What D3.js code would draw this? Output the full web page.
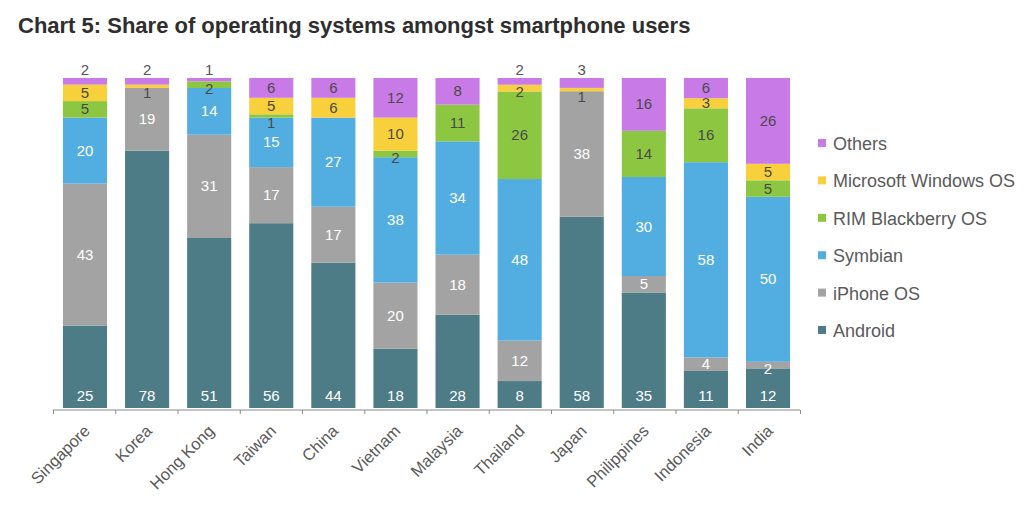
<!DOCTYPE html>
<html>
<head>
<meta charset="utf-8">
<script src="https://cdn.jsdelivr.net/npm/d3@7"></script>
<style>
  body { margin: 0; background: #fff; font-family: "Liberation Sans", Arial, sans-serif; }
  .title { font-weight: bold; font-size: 22px; fill: #2e2e2e; }
  .axis path, .axis line { stroke: #8a8a8a; }
  .axis text { font-size: 16.5px; fill: #5a5a5a; }
  .legend text { font-size: 18px; fill: #5a5a5a; }
  .val { font-size: 15px; text-anchor: middle; }
</style>
</head>
<body>
<svg id="chart" width="1030" height="506"></svg>
<script>
// Data
const countries = ["Singapore", "Korea", "Hong Kong", "Taiwan", "China", "Vietnam",
  "Malaysia", "Thailand", "Japan", "Philippines", "Indonesia", "India"];
const series = ["Android", "iPhone OS", "Symbian", "RIM Blackberry OS", "Microsoft Windows OS", "Others"];
const android   = [25, 78, 51, 56, 44, 18, 28, 8, 58, 35, 11, 12];
const iphone    = [43, 19, 31, 17, 17, 20, 18, 12, 38, 5, 4, 2];
const symbian   = [20, 0, 14, 15, 27, 38, 34, 48, 0, 30, 58, 50];
const rim       = [5, 0, 2, 1, 0, 2, 11, 26, 0, 14, 16, 5];
const windowsOS = [5, 1, 0, 5, 6, 10, 0, 2, 1, 0, 3, 5];
const others    = [2, 2, 1, 6, 6, 12, 8, 2, 3, 16, 6, 26];
const colors = ["#4d7b86", "#a3a3a3", "#52aee0", "#8dc640", "#f7d03c", "#c87ae6"];

const values = [android, iphone, symbian, rim, windowsOS, others];
const rows = countries.map((c, i) => {
  const r = { country: c };
  series.forEach((s, j) => r[s] = values[j][i]);
  return r;
});

const svg = d3.select("#chart");
const margin = { left: 53, top: 78 };
const innerW = 800 - margin.left;
const innerH = 408 - margin.top;

svg.append("text").attr("class", "title")
  .attr("x", 18).attr("y", 33)
  .text("Chart 5: Share of operating systems amongst smartphone users");

const g = svg.append("g").attr("transform", `translate(${margin.left},${margin.top})`);

const x = d3.scaleBand().domain(countries).range([0, innerW]).paddingInner(0.29).paddingOuter(0.16);
const y = d3.scaleLinear().domain([0, 1]).range([innerH, 0]);
const color = d3.scaleOrdinal().domain(series).range(colors);

const stacked = d3.stack().keys(series).offset(d3.stackOffsetExpand)(rows);

const layers = g.selectAll("g.layer").data(stacked).enter().append("g")
  .attr("class", "layer")
  .attr("fill", d => color(d.key));

layers.selectAll("rect").data(d => d).enter().append("rect")
  .attr("x", d => x(d.data.country))
  .attr("y", d => y(d[1]))
  .attr("width", x.bandwidth())
  .attr("height", d => y(d[0]) - y(d[1]));

// Value labels
const lightText = new Set(["Android", "iPhone OS", "Symbian"]);
layers.each(function(layer) {
  const key = layer.key;
  d3.select(this).selectAll("text").data(layer.filter(d => d.data[key] > 0)).enter().append("text")
    .attr("class", "val")
    .attr("x", d => x(d.data.country) + x.bandwidth() / 2)
    .attr("y", d => {
      const v = d.data[key];
      if (key === "Android") return y(0) - 7;
      if (key === "Others" && v <= 3) return y(1) - 3;
      // tiny segments: label sits a little below the band
      const mid = (y(d[0]) + y(d[1])) / 2;
      if (v === 1) return mid + 12;
      if (v === 2) return mid + 9;
      return mid + 5;
    })
    .attr("fill", d => (key === "Others" && d.data[key] <= 3) ? "#555" : (lightText.has(key) ? "#fff" : "#4a4a4a"))
    .text(d => d.data[key]);
});

// Axis
const xAxisBand = d3.scaleLinear().domain([0, countries.length]).range([0, innerW]);
const axisG = g.append("g").attr("class", "axis").attr("transform", `translate(0,${innerH + 2})`);
axisG.call(d3.axisBottom(xAxisBand).ticks(countries.length).tickSize(4).tickFormat(""));
axisG.select(".domain").attr("d", `M0,0H${innerW}`);

g.append("g").attr("class", "axis")
  .selectAll("text").data(countries).enter().append("text")
  .attr("text-anchor", "end")
  .attr("transform", d => `translate(${x(d) + x.bandwidth() / 2 + 6},${innerH + 24}) rotate(-45)`)
  .text(d => d);

// Legend
const legend = svg.append("g").attr("class", "legend")
  .attr("transform", "translate(818,150)");
const legItems = legend.selectAll("g").data(series.slice().reverse()).enter().append("g")
  .attr("transform", (d, i) => `translate(0,${i * 37.4})`);
legItems.append("rect").attr("x", 0).attr("y", -11).attr("width", 8).attr("height", 8)
  .attr("fill", d => color(d));
legItems.append("text").attr("x", 15).attr("y", 0).text(d => d);
</script>
</body>
</html>
